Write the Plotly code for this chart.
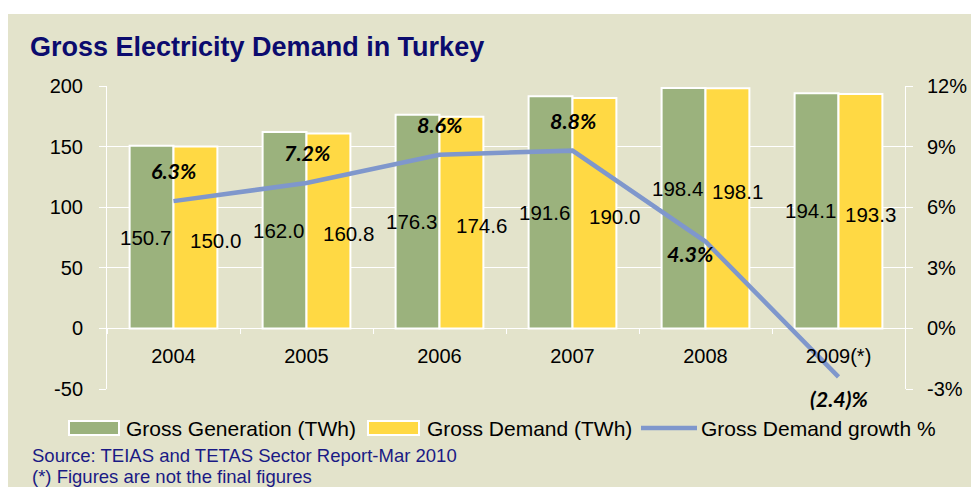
import plotly.graph_objects as go

# ---------------- data ----------------
years = ["2004", "2005", "2006", "2007", "2008", "2009(*)"]
gross_generation = [150.7, 162.0, 176.3, 191.6, 198.4, 194.1]
gross_demand = [150.0, 160.8, 174.6, 190.0, 198.1, 193.3]
demand_growth = [6.3, 7.2, 8.6, 8.8, 4.3, -2.4]
growth_labels = ["6.3%", "7.2%", "8.6%", "8.8%", "4.3%", "(2.4)%"]
left_ticks = [-50, 0, 50, 100, 150, 200]
left_tick_text = ["-50", "0", "50", "100", "150", "200"]
right_ticks = [-3, 0, 3, 6, 9, 12]
right_tick_text = ["-3%", "0%", "3%", "6%", "9%", "12%"]

# ---------------- styles ----------------
BG = "#E3E3CB"
GREEN = "#9BB27D"
YELLOW = "#FFD944"
LINE = "#7F97CC"
NAVY = "#0B0B6E"
W, H = 971, 487
ML, MR, MT, MB = 107, 66, 86, 98
PW, PH = W - ML - MR, H - MT - MB


def xp(q):
    """page pixel x -> paper fraction"""
    return (q - ML) / PW


def yp(p):
    """page pixel y -> paper fraction"""
    return (H - MB - p) / PH


fig = go.Figure()
fig.add_trace(go.Bar(x=years, y=gross_generation, name="Gross Generation (TWh)",
                     marker=dict(color=GREEN, line=dict(color="white", width=2)),
                     showlegend=False))
fig.add_trace(go.Bar(x=years, y=gross_demand, name="Gross Demand (TWh)",
                     marker=dict(color=YELLOW, line=dict(color="white", width=2)),
                     showlegend=False))
fig.add_trace(go.Scatter(x=years, y=demand_growth, name="Gross Demand growth %",
                         mode="lines", line=dict(color=LINE, width=4.5),
                         yaxis="y2", showlegend=False))

annotations = []
lab_font = dict(family="Liberation Sans, Arial", size=20.5, color="black")
for i, yr in enumerate(years):
    raise_px = 20 if yr == "2008" else 0
    annotations.append(dict(x=i, y=gross_generation[i] / 2, xref="x", yref="y",
                            text=f"{gross_generation[i]:.1f}", showarrow=False,
                            xshift=-28, yshift=raise_px, font=lab_font))
    annotations.append(dict(x=i, y=gross_demand[i] / 2, xref="x", yref="y",
                            text=f"{gross_demand[i]:.1f}", showarrow=False,
                            xshift=42 if i < 4 else 32, yshift=raise_px - 3, font=lab_font))

pct_font = dict(family="Lato, Open Sans", size=21.5, color="black")
pct_shift = [(0, 30), (0, 30), (0, 30), (0, 30), (-16, -12), (0, -22)]
for i, yr in enumerate(years):
    annotations.append(dict(x=i, y=demand_growth[i], xref="x", yref="y2",
                            text=f"<b><i>{growth_labels[i]}</i></b>", showarrow=False,
                            xshift=pct_shift[i][0], yshift=pct_shift[i][1], font=pct_font))

# legend (drawn manually for wide swatches)
leg_font = dict(family="Liberation Sans, Arial", size=21, color="black")
leg_y = yp(428)
for txt, xq in [("Gross Generation (TWh)", 124), ("Gross Demand (TWh)", 425),
                ("Gross Demand growth %", 699)]:
    annotations.append(dict(x=xp(xq), y=leg_y, xref="paper", yref="paper", text=txt,
                            showarrow=False, xanchor="left", yanchor="middle", font=leg_font))

src_font = dict(family="Liberation Sans, Arial", size=18.5, color="#1A1A85")
annotations.append(dict(x=xp(30), y=yp(455), xref="paper", yref="paper",
                        text="Source: TEIAS and TETAS Sector Report-Mar 2010",
                        showarrow=False, xanchor="left", yanchor="middle", font=src_font))
annotations.append(dict(x=xp(30), y=yp(476), xref="paper", yref="paper",
                        text="(*) Figures are not the final figures",
                        showarrow=False, xanchor="left", yanchor="middle", font=src_font))

shapes = [
    # white outer strips (top and left)
    dict(type="rect", xref="paper", yref="paper", x0=xp(-10), x1=xp(990), y0=yp(14), y1=yp(-10),
         fillcolor="white", line=dict(width=0), layer="below"),
    dict(type="rect", xref="paper", yref="paper", x0=xp(-10), x1=xp(8), y0=yp(500), y1=yp(-10),
         fillcolor="white", line=dict(width=0), layer="below"),
    # legend swatches
    dict(type="rect", xref="paper", yref="paper", x0=xp(69), x1=xp(119), y0=yp(435), y1=yp(421),
         fillcolor=GREEN, line=dict(color="white", width=2)),
    dict(type="rect", xref="paper", yref="paper", x0=xp(368), x1=xp(419), y0=yp(435), y1=yp(421),
         fillcolor=YELLOW, line=dict(color="white", width=2)),
    dict(type="line", xref="paper", yref="paper", x0=xp(641), x1=xp(697), y0=leg_y, y1=leg_y,
         line=dict(color=LINE, width=4.5)),
]

tick_font = dict(family="Liberation Sans, Arial", size=20, color="black")
fig.update_layout(
    template="none",
    width=W, height=H,
    margin=dict(l=ML, r=MR, t=MT, b=MB, pad=0, autoexpand=False),
    paper_bgcolor=BG, plot_bgcolor=BG,
    barmode="group", bargap=0.34, bargroupgap=0,
    title=dict(text="<b>Gross Electricity Demand in Turkey</b>", x=30 / W,
               xref="container", xanchor="left", y=1 - 47 / H, yref="container",
               yanchor="middle",
               font=dict(family="Liberation Sans, Arial", size=27, color=NAVY)),
    xaxis=dict(type="category", categoryorder="array", categoryarray=years,
               range=[-0.5, len(years) - 0.5], automargin=False,
               anchor="free", position=0.2, showgrid=False, showline=False, zeroline=False,
               ticks="outside", tickson="boundaries", ticklen=5, tickcolor="white",
               tickfont=tick_font, ticklabelstandoff=14),
    yaxis=dict(range=[-50, 200], tickvals=left_ticks, ticktext=left_tick_text,
               automargin=False, showgrid=True, gridcolor="white",
               gridwidth=1, zeroline=True, zerolinecolor="white", zerolinewidth=1,
               showline=True, linecolor="white", linewidth=1,
               ticks="outside", ticklen=7, tickcolor="white", tickfont=tick_font,
               ticklabelstandoff=12),
    yaxis2=dict(range=[-3, 12], tickvals=right_ticks, ticktext=right_tick_text,
                automargin=False, overlaying="y",
                side="right", showgrid=False, zeroline=False, showline=True,
                linecolor="white", linewidth=1, ticks="outside", ticklen=7,
                tickcolor="white", tickfont=tick_font, ticklabelstandoff=10),
    annotations=annotations, shapes=shapes, showlegend=False,
)

fig.write_html("out.html",
               config={"displayModeBar": False},
               post_script="document.body.style.margin='0';"
                           "document.body.style.overflow='hidden';")
